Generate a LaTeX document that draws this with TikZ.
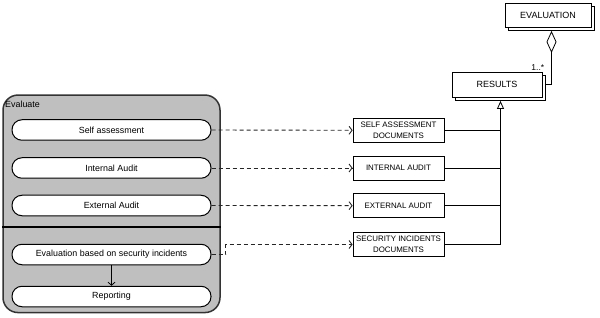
\documentclass[tikz,border=0pt]{standalone}
\usepackage{fontspec}
\setmainfont{Liberation Sans}
\usetikzlibrary{arrows.meta,shadows}

\begin{document}
\begin{tikzpicture}[x=1pt,y=-1pt,
  actbox/.style={draw,line width=1pt,fill=white,rounded corners=10pt,minimum width=199pt,minimum height=20.5pt,inner sep=0pt,font=\fontsize{8.9}{10}\selectfont},
  docbox/.style={draw,line width=0.8pt,fill=white,minimum width=91pt,minimum height=24pt,inner sep=0pt,align=center,font=\fontsize{7.9}{10.5}\selectfont},
  clsbox/.style={draw,line width=0.8pt,fill=white,minimum height=25pt,inner sep=0pt,font=\fontsize{9}{10}\selectfont,
    copy shadow={shadow xshift=3.5pt,shadow yshift=-3.5pt,draw,fill=white,line width=0.8pt}},
  dep/.style={draw=black!85,line width=0.9pt,dash pattern=on 4pt off 3pt,-{Straight Barb[length=3pt,width=8pt]}},
  link/.style={line width=0.8pt}]
\useasboundingbox (0,0) rectangle (600,318);

\node (pool) [draw=black!80,line width=1.5pt,fill=gray!50,rounded corners=15pt,minimum width=217pt,minimum height=217.5pt] at (111.5,203.8) {};
\node (evlabel) [anchor=west,inner sep=0pt,font=\fontsize{8.9}{10}\selectfont] at (5,104) {Evaluate};
\draw[line width=2.5pt] (pool.west |- 0,227) -- (pool.east |- 0,227);

\node (self) [actbox] at (111.5,130) {Self assessment};
\node (internal) [actbox] at (111.5,168) {Internal Audit};
\node (external) [actbox] at (111.5,205.5) {External Audit};
\node (incidents) [actbox] at (111.5,254.5) {Evaluation based on security incidents};
\node (reporting) [actbox] at (111.5,296.5) {Reporting};

\node (selfdocs) [docbox] at (398.5,130.3) {SELF ASSESSMENT\\DOCUMENTS};
\node (auditint) [docbox] at (398.5,168) {INTERNAL AUDIT};
\node (auditext) [docbox] at (398.5,205.7) {EXTERNAL AUDIT};
\node (incdocs) [docbox] at (398.5,244.5) {SECURITY INCIDENTS\\DOCUMENTS};

\node (evaluation) [clsbox,minimum width=86pt,minimum height=24pt] at (548,15) {EVALUATION};
\node (results) [clsbox,minimum width=90pt] at (497,84.5) {RESULTS};
\node (mult) [anchor=south east,inner sep=1pt,font=\fontsize{8.5}{10}\selectfont] at ([xshift=3pt]results.north east) {1..*};

\draw[-{Straight Barb[length=3pt,width=7pt]},line width=0.8pt] (incidents) -- (reporting);

\draw[dep] (self.east) -- (selfdocs.west);
\draw[dep] (internal.east) -- (auditint.west);
\draw[dep] (external.east) -- (auditext.west);
\draw[dep] (incidents.east) -- ++(14,0) |- (incdocs.west);

\coordinate (trunk) at (500.5,244.5);
\coordinate (rbase) at ([yshift=-3.5pt]results.south);
\draw[link] (selfdocs.east) -- (selfdocs.east -| trunk);
\draw[link] (auditint.east) -- (auditint.east -| trunk);
\draw[link] (auditext.east) -- (auditext.east -| trunk);
\draw[link] (incdocs.east) -- (trunk);
\draw[link,-{Triangle[open,length=8pt,width=7pt]}] (trunk) -- (trunk |- rbase);

\draw[link,{Diamond[open,length=22pt,width=10pt]}-] ([xshift=3.5pt,yshift=-3.5pt]evaluation.south) |- ([xshift=3.5pt]results.east);
\end{tikzpicture}
\end{document}
